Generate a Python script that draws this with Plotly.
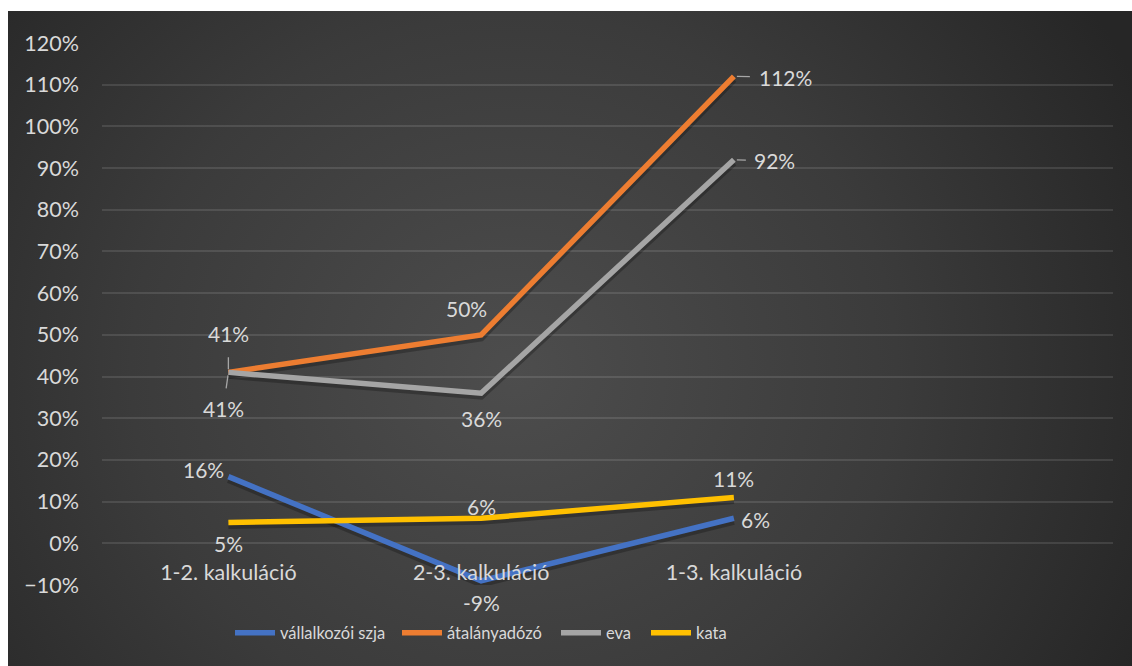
import base64
import plotly.graph_objects as go

# Categories and series values (fractions)
categories = ["1-2. kalkuláció", "2-3. kalkuláció", "1-3. kalkuláció"]
vallalkozoi_szja = [0.16, -0.09, 0.06]
atalanyadozo = [0.41, 0.50, 1.12]
eva = [0.41, 0.36, 0.92]
kata = [0.05, 0.06, 0.11]
y_ticks = [-0.10, 0.0, 0.10, 0.20, 0.30, 0.40, 0.50, 0.60, 0.70, 0.80, 0.90, 1.00, 1.10, 1.20]

FONT = "Lato"
TEXT = "#d9d9d9"
Y_RANGE = [-0.10, 1.20]

series = [
    ("vállalkozói szja", vallalkozoi_szja, "#4472C4", "legend"),
    ("átalányadózó", atalanyadozo, "#ED7D31", "legend2"),
    ("eva", eva, "#A5A5A5", "legend3"),
    ("kata", kata, "#FFC000", "legend4"),
]

fig = go.Figure()
# empty trace so the main value axis and its grid form a subplot
fig.add_trace(go.Scatter(x=[], y=[], showlegend=False, hoverinfo="skip"))
# soft drop shadow under each line (slightly shifted axis)
for name, vals, col, lg in series:
    fig.add_trace(go.Scatter(
        x=categories, y=vals, mode="lines", showlegend=False, hoverinfo="skip",
        line=dict(color="rgba(0,0,0,0.25)", width=7), yaxis="y2",
    ))
for name, vals, col, lg in series:
    fig.add_trace(go.Scatter(
        x=categories, y=vals, mode="lines", name=name, legend=lg,
        line=dict(color=col, width=5.5), yaxis="y3",
    ))

# Data labels: (series values, index, xshift, yshift, leader offset, leader gap)
label_specs = [
    (vallalkozoi_szja, 0, -25, 7, None, 0),
    (vallalkozoi_szja, 1, 0, -22, None, 0),
    (vallalkozoi_szja, 2, 22, -1, None, 0),
    (atalanyadozo, 0, 0, 0, (0, -39), 10),
    (atalanyadozo, 1, -15, 26, None, 0),
    (atalanyadozo, 2, 0, 0, (52, 1), 8),
    (eva, 0, 0, 0, (-5, 36), 6),
    (eva, 1, 0, -25, None, 0),
    (eva, 2, 0, 0, (41, 1), 7),
    (kata, 0, 0, -21, None, 0),
    (kata, 1, 0, 12, None, 0),
    (kata, 2, 0, 19, None, 0),
]
for vals, i, xs, ys, leader, gap in label_specs:
    txt = f"{round(vals[i] * 100):d}%"
    if leader is None:
        fig.add_annotation(x=categories[i], y=vals[i], yref="y3", text=txt, showarrow=False,
                           xshift=xs, yshift=ys,
                           font=dict(family=FONT, size=21, color=TEXT))
    else:
        fig.add_annotation(x=categories[i], y=vals[i], yref="y3", text=txt, showarrow=True,
                           ax=leader[0], ay=leader[1], arrowhead=0, arrowwidth=1.3,
                           arrowcolor="#a6a6a6", standoff=3, startstandoff=gap,
                           font=dict(family=FONT, size=21, color=TEXT))

# Radial gradient backdrop for the chart area
svg = (
    '<svg xmlns="http://www.w3.org/2000/svg" width="1124" height="655" '
    'preserveAspectRatio="none" viewBox="0 0 1124 655">'
    '<defs><radialGradient id="g" cx="0.45" cy="0.55" r="0.62" '
    'gradientTransform="translate(0.45,0.55) scale(1,1.6) translate(-0.45,-0.55)">'
    '<stop offset="0" stop-color="#4d4d4d"/>'
    '<stop offset="0.55" stop-color="#3b3b3b"/>'
    '<stop offset="1" stop-color="#262626"/>'
    '</radialGradient></defs>'
    '<rect width="1124" height="655" fill="url(#g)"/></svg>'
)
bg_src = "data:image/svg+xml;base64," + base64.b64encode(svg.encode()).decode()

L, R, T, B = 102, 19, 43, 81
W, H = 1132, 666
pw, ph = W - L - R, H - T - B
fig.add_layout_image(
    source=bg_src, xref="paper", yref="paper",
    x=(8 - L) / pw, y=(H - B - 11) / ph,
    sizex=(W - 8) / pw, sizey=(H - 11) / ph,
    xanchor="left", yanchor="top", sizing="stretch", layer="below",
)

# one legend per series so each entry sits at its own spot
legend_left_px = {"legend": 238, "legend2": 405, "legend3": 564, "legend4": 654}
legend_style = dict(orientation="h", xanchor="left", yanchor="middle",
                    y=(H - B - 633) / ph, font=dict(family=FONT, size=16.5, color=TEXT),
                    bgcolor="rgba(0,0,0,0)", itemwidth=40, borderwidth=0)
legends = {k: dict(x=(v - L - 8) / pw, **legend_style) for k, v in legend_left_px.items()}

fig.update_layout(
    width=W, height=H,
    margin=dict(l=L, r=R, t=T, b=B),
    paper_bgcolor="white", plot_bgcolor="rgba(0,0,0,0)",
    font=dict(family=FONT, size=21, color=TEXT),
    showlegend=True,
    **legends,
    xaxis=dict(type="category", categoryarray=categories, range=[-0.5, 3.5],
               showgrid=False, zeroline=False, showline=False, ticks="",
               anchor="free", position=1 / 13, ticklabelstandoff=14,
               tickfont=dict(family=FONT, size=21.5, color=TEXT)),
    yaxis=dict(range=Y_RANGE, tickvals=y_ticks, tickformat=".0%",
               showgrid=True, gridcolor="rgba(255,255,255,0.11)", gridwidth=1.5,
               zeroline=False, showline=False, ticks="", ticklabelstandoff=22,
               tickfont=dict(family=FONT, size=21.5, color=TEXT)),
    yaxis2=dict(range=[Y_RANGE[0] + 0.0072, Y_RANGE[1] + 0.0072], overlaying="y", visible=False),
    yaxis3=dict(range=Y_RANGE, overlaying="y", visible=False),
)

fig.write_html("out.html")
